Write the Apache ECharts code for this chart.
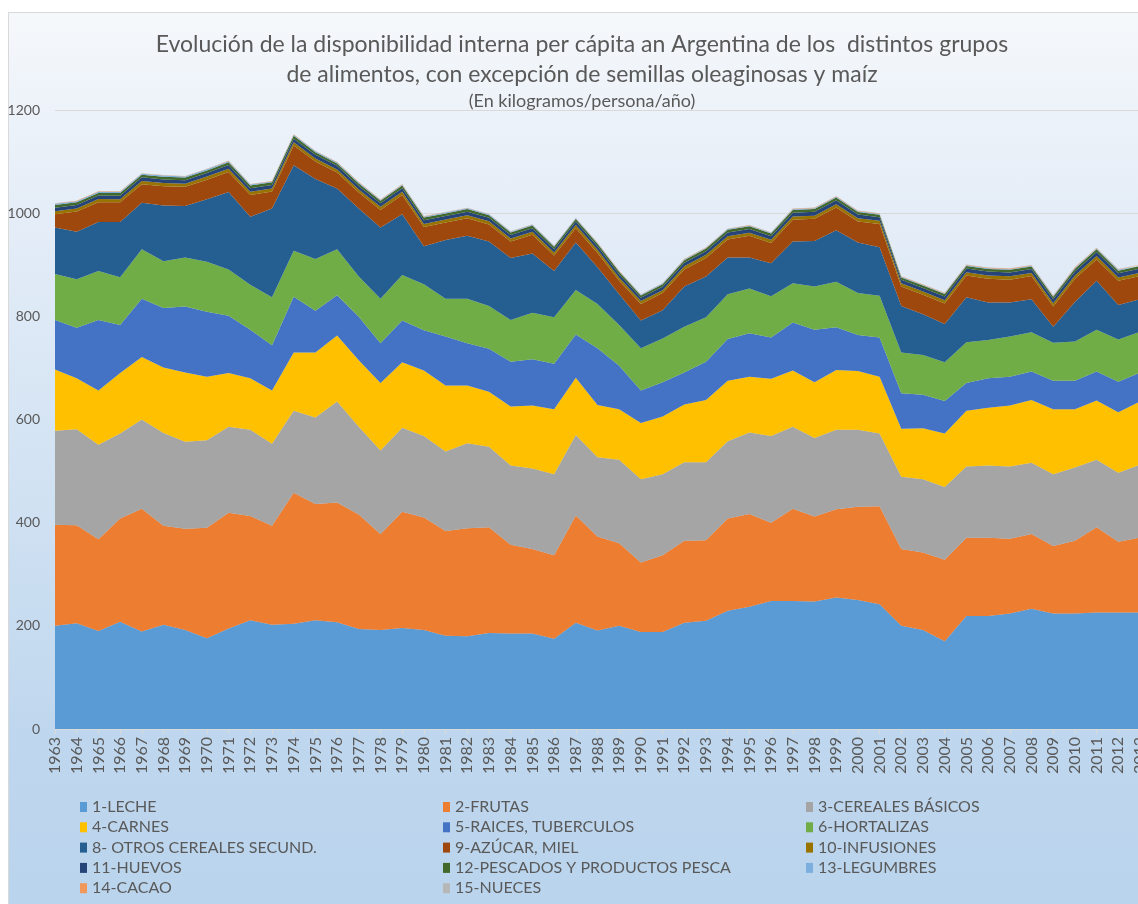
<!DOCTYPE html>
<html>
<head>
<meta charset="utf-8">
<script src="https://cdn.jsdelivr.net/npm/echarts@6/dist/echarts.min.js"></script>
<style>
    html, body { margin: 0; padding: 0; background: #ffffff; overflow: hidden; }
    #frame {
        position: absolute; left: 8px; top: 12px; width: 1140px; height: 900px;
        border-left: 1px solid #d9d9d9; border-top: 1px solid #d9d9d9;
        background: linear-gradient(to bottom, #f5f8fb 0%, #e6eef8 20%, #d3e3f3 50%, #bfd7ee 80%, #bad4ed 100%);
    }
    #chart { position: absolute; left: 0; top: 0; width: 1138px; height: 904px; }
</style>
</head>
<body>
<div id="frame"></div>
<div id="chart"></div>
<script>
var years = ["1963", "1964", "1965", "1966", "1967", "1968", "1969", "1970", "1971", "1972",
    "1973", "1974", "1975", "1976", "1977", "1978", "1979", "1980", "1981", "1982",
    "1983", "1984", "1985", "1986", "1987", "1988", "1989", "1990", "1991", "1992",
    "1993", "1994", "1995", "1996", "1997", "1998", "1999", "2000", "2001", "2002",
    "2003", "2004", "2005", "2006", "2007", "2008", "2009", "2010", "2011", "2012",
    "2013"];

// kg/persona/año
var leche = [200, 205, 190, 208, 189, 202, 192, 176, 195, 211,
    202, 204, 211, 207, 194, 192, 196, 192, 181, 180,
    186, 185, 185, 175, 206, 191, 200, 188, 188, 206,
    210, 229, 237, 248, 248, 247, 255, 250, 242, 200,
    192, 170, 219, 219, 224, 233, 224, 224, 226, 226,
    226];
var frutas = [196, 190, 178, 200, 238, 192, 196, 214, 224, 202,
    192, 254, 225, 232, 222, 186, 225, 218, 203, 209,
    205, 172, 164, 162, 208, 182, 160, 135, 149, 159,
    156, 179, 180, 152, 179, 165, 171, 181, 190, 149,
    150, 158, 152, 152, 145, 145, 131, 141, 165, 137,
    145];
var cerealesBasicos = [182, 186, 183, 165, 173, 180, 169, 170, 167, 167,
    159, 159, 168, 196, 170, 162, 163, 158, 154, 165,
    156, 154, 156, 157, 156, 154, 162, 161, 157, 152,
    151, 150, 158, 168, 159, 152, 154, 149, 141, 140,
    142, 141, 138, 140, 140, 138, 139, 142, 131, 134,
    141];
var carnes = [119, 99, 105, 117, 121, 127, 134, 123, 104, 100,
    103, 113, 126, 128, 129, 131, 127, 127, 128, 112,
    107, 114, 122, 126, 111, 101, 98, 109, 112, 112,
    121, 117, 108, 111, 109, 108, 116, 114, 110, 93,
    99, 104, 108, 112, 118, 122, 126, 113, 115, 117,
    123];
var raices = [96, 98, 137, 93, 113, 115, 128, 126, 111, 94,
    88, 108, 81, 78, 84, 77, 81, 78, 95, 82,
    83, 87, 90, 88, 84, 110, 84, 63, 66, 62,
    74, 81, 84, 80, 93, 102, 83, 70, 76, 69,
    65, 63, 54, 57, 56, 55, 55, 55, 56, 59,
    56];
var hortalizas = [89, 94, 95, 93, 96, 91, 95, 97, 90, 87,
    93, 89, 100, 89, 78, 86, 88, 89, 73, 86,
    83, 81, 90, 90, 86, 86, 79, 82, 85, 89,
    86, 87, 87, 80, 76, 84, 88, 81, 81, 79,
    77, 75, 79, 74, 78, 76, 74, 76, 81, 82,
    79];
var otrosCereales = [90, 92, 95, 107, 90, 108, 100, 121, 150, 132,
    172, 166, 155, 118, 132, 138, 118, 74, 114, 122,
    125, 120, 115, 90, 92, 71, 60, 54, 55, 78,
    79, 71, 60, 64, 81, 88, 100, 98, 94, 90,
    79, 74, 87, 73, 66, 64, 31, 77, 95, 67,
    63];
var azucar = [26, 39, 38, 38, 36, 37, 37, 38, 39, 42,
    33, 38, 34, 31, 31, 34, 37, 37, 34, 34,
    33, 32, 36, 30, 28, 28, 26, 32, 33, 33,
    36, 35, 42, 39, 42, 43, 44, 41, 45, 38,
    38, 40, 42, 46, 44, 45, 39, 45, 41, 47,
    45];
var infusiones = [5.8, 6.1, 6.3, 6.0, 6.2, 6.4, 6.1, 5.9, 6.2, 6.5,
    6.0, 6.3, 6.1, 5.8, 5.9, 6.2, 6.4, 6.0, 5.7, 5.9,
    6.1, 5.8, 6.0, 5.6, 5.9, 6.2, 5.8, 5.5, 5.7, 6.0,
    6.2, 6.3, 6.1, 6.4, 6.6, 6.2, 6.5, 6.3, 6.1, 5.9,
    6.0, 6.2, 6.4, 6.3, 6.5, 6.2, 6.6, 6.4, 6.8, 6.5,
    6.4];
var huevos = [6.8, 6.9, 7.1, 7.0, 7.2, 7.0, 6.9, 7.1, 7.3, 7.0,
    6.8, 7.2, 7.1, 7.0, 6.9, 6.8, 7.0, 7.1, 6.9, 7.0,
    6.8, 6.7, 6.9, 6.6, 6.8, 6.9, 6.7, 6.5, 6.6, 6.8,
    7.0, 7.1, 7.2, 7.0, 7.3, 7.4, 7.5, 7.3, 7.2, 6.9,
    7.0, 7.1, 7.3, 7.4, 7.5, 7.6, 7.4, 7.7, 7.9, 8.0,
    8.1];
var pescados = [5.2, 5.0, 4.8, 5.1, 4.9, 5.3, 5.0, 4.8, 5.2, 5.1,
    4.9, 5.4, 5.0, 4.7, 4.9, 5.0, 5.2, 5.3, 4.9, 5.0,
    5.1, 4.8, 5.0, 4.7, 4.9, 4.6, 4.8, 4.5, 4.7, 5.0,
    5.1, 5.3, 5.2, 5.0, 5.1, 5.3, 5.2, 4.9, 4.8, 4.6,
    4.7, 4.9, 5.0, 5.2, 5.1, 4.9, 5.0, 5.3, 5.2, 5.0,
    5.1];
var legumbres = [2.4, 2.2, 2.3, 2.1, 2.0, 2.2, 1.9, 2.1, 2.0, 1.8,
    1.9, 2.0, 1.7, 1.8, 1.9, 1.6, 1.7, 1.8, 1.6, 1.5,
    1.7, 1.6, 1.5, 1.4, 1.6, 1.5, 1.3, 1.4, 1.5, 1.6,
    1.4, 1.5, 1.3, 1.4, 1.5, 1.6, 1.4, 1.3, 1.5, 1.4,
    1.2, 1.3, 1.4, 1.5, 1.3, 1.4, 1.6, 1.5, 1.4, 1.6,
    1.5];
var cacao = [0.7, 0.7, 0.8, 0.7, 0.8, 0.8, 0.7, 0.8, 0.9, 0.8,
    0.7, 0.9, 0.8, 0.8, 0.7, 0.7, 0.8, 0.8, 0.7, 0.7,
    0.6, 0.6, 0.7, 0.6, 0.6, 0.7, 0.6, 0.5, 0.6, 0.7,
    0.8, 0.8, 0.9, 0.9, 1.0, 1.0, 1.1, 1.0, 0.9, 0.8,
    0.8, 0.9, 1.0, 1.0, 1.1, 1.1, 1.0, 1.1, 1.2, 1.2,
    1.1];
var nueces = [0.4, 0.4, 0.3, 0.4, 0.4, 0.3, 0.4, 0.4, 0.4, 0.3,
    0.3, 0.4, 0.4, 0.3, 0.3, 0.3, 0.4, 0.3, 0.3, 0.3,
    0.3, 0.3, 0.3, 0.3, 0.3, 0.3, 0.3, 0.2, 0.3, 0.3,
    0.3, 0.4, 0.4, 0.4, 0.4, 0.4, 0.4, 0.4, 0.3, 0.3,
    0.3, 0.4, 0.4, 0.4, 0.5, 0.5, 0.5, 0.5, 0.5, 0.5,
    0.5];

var names = ["1-LECHE", "2-FRUTAS", "3-CEREALES BÁSICOS", "4-CARNES", "5-RAICES, TUBERCULOS",
    "6-HORTALIZAS", "8- OTROS CEREALES SECUND.", "9-AZÚCAR, MIEL", "10-INFUSIONES", "11-HUEVOS",
    "12-PESCADOS Y PRODUCTOS PESCA", "13-LEGUMBRES", "14-CACAO", "15-NUECES"];
var values = [leche, frutas, cerealesBasicos, carnes, raices, hortalizas, otrosCereales,
    azucar, infusiones, huevos, pescados, legumbres, cacao, nueces];
var colors = ["#5b9bd5", "#ed7d31", "#a5a5a5", "#ffc000", "#4472c4", "#70ad47", "#255e91",
    "#9e480e", "#997300", "#264478", "#43682b", "#7cafdd", "#f1975a", "#b7b7b7"];

var yTicks = { min: 0, max: 1200, interval: 200 };

var FONT = "Lato, 'Liberation Sans', sans-serif";
var GREY = "#595959";

var series = names.map(function (name, i) {
    return {
        name: name,
        type: "line",
        stack: "total",
        symbol: "none",
        data: values[i],
        lineStyle: { width: 0 },
        areaStyle: { color: colors[i], opacity: 1 },
        itemStyle: { color: colors[i] },
        emphasis: { disabled: true }
    };
});

var legendCols = [
    [names[0], names[3], names[6], names[9], names[12]],
    [names[1], names[4], names[7], names[10], names[13]],
    [names[2], names[5], names[8], names[11]]
];
var legendLeft = [80, 443, 806];

var legends = legendCols.map(function (col, i) {
    return {
        data: col,
        orient: "vertical",
        left: legendLeft[i],
        top: 797,
        padding: 0,
        itemGap: 0.3,
        itemWidth: 7,
        itemHeight: 10,
        icon: "rect",
        selectedMode: false,
        textStyle: { color: GREY, fontSize: 16, fontFamily: FONT, lineHeight: 20 }
    };
});

var chart = echarts.init(document.getElementById("chart"), null, { renderer: "canvas" });
chart.setOption({
    animation: false,
    color: colors,
    title: {
        text: "Evolución de la disponibilidad interna per cápita an Argentina de los  distintos grupos\nde alimentos, con excepción de semillas oleaginosas y maíz",
        subtext: "(En kilogramos/persona/año)",
        left: 577,
        top: 25,
        textAlign: "center",
        itemGap: 1,
        textStyle: { color: GREY, fontSize: 23, fontWeight: "normal", fontFamily: FONT, lineHeight: 30 },
        subtextStyle: { color: GREY, fontSize: 18, fontFamily: FONT, lineHeight: 20 }
    },
    legend: legends,
    grid: {
        left: 55, width: 1085, top: 110, height: 619,
        containLabel: false, outerBoundsMode: "none"
    },
    xAxis: {
        type: "category",
        data: years,
        boundaryGap: false,
        axisLine: { lineStyle: { color: "#d9d9d9", width: 1 } },
        axisTick: { show: true, length: 5, lineStyle: { color: "#d9d9d9" } },
        axisLabel: { rotate: 90, interval: 0, margin: 8, color: GREY, fontSize: 16, fontFamily: FONT }
    },
    yAxis: {
        type: "value",
        min: yTicks.min,
        max: yTicks.max,
        interval: yTicks.interval,
        axisLine: { show: false },
        axisTick: { show: false },
        splitLine: { lineStyle: { color: "#d9d9d9", width: 1 } },
        axisLabel: {
            margin: 15, color: GREY, fontSize: 14, fontFamily: FONT,
            formatter: function (v) { return String(v); }
        }
    },
    series: series
});
</script>
</body>
</html>
